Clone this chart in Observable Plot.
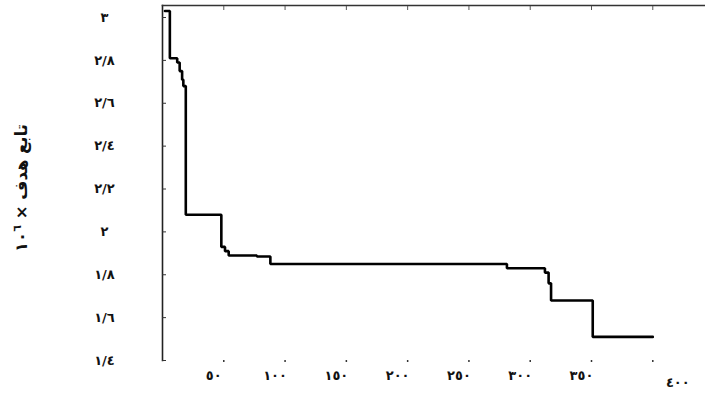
<!DOCTYPE html>
<html><head><meta charset="utf-8">
<script src="https://cdn.jsdelivr.net/npm/d3@7"></script>
<script src="https://cdn.jsdelivr.net/npm/@observablehq/plot@0.6"></script>
<style>body{margin:0;background:#fff;} svg{display:block;}</style>
</head><body><div id="chart"></div>
<script>
// Data (iteration, objective value ×10^6), drawn as a step-after line
const iterations = [2, 6, 12, 14, 16, 17, 19, 48, 51, 54, 77, 88, 281, 312, 315, 317, 351, 400];
const objective  = [3.03, 2.81, 2.79, 2.75, 2.71, 2.68, 2.08, 1.93, 1.91, 1.89, 1.885, 1.85, 1.83, 1.81, 1.76, 1.68, 1.51, 1.51];

const xTicks = [50, 100, 150, 200, 250, 300, 350, 400];
const xTickLabels = ["٥٠", "١٠٠", "١٥٠", "٢٠٠", "٢٥٠", "٣٠٠", "٣٥٠", "٤٠٠"];
const yTicks = [3.0, 2.8, 2.6, 2.4, 2.2, 2.0, 1.8, 1.6, 1.4];
const yTickLabels = ["٣", "٢/٨", "٢/٦", "٢/٤", "٢/٢", "٢", "١/٨", "١/٦", "١/٤"];
const yTitle = "تابع هدف × ١٠";
const yTitleSup = "٦";

const data = iterations.map((x, i) => ({x, y: objective[i]}));
const xLab = v => xTickLabels[xTicks.indexOf(v)];
const yLab = v => yTickLabels[yTicks.indexOf(v)];
const font = "DejaVu Sans";

const plot = Plot.plot({
  width: 705,
  height: 409,
  marginLeft: 162,
  marginRight: 0,
  marginTop: 5,
  marginBottom: 49,
  style: {fontFamily: font, fontSize: "13px", color: "#111", background: "#fff"},
  x: {domain: [0, 443], label: null},
  y: {domain: [1.4, 3.0], range: [360, 17], label: null},
  marks: [
    Plot.frame({anchor: "left", stroke: "#222", strokeWidth: 1.6}),
    Plot.frame({anchor: "top", stroke: "#333", strokeWidth: 1.6}),
    Plot.axisY({ticks: yTicks, tickSize: -4, tickFormat: () => "", stroke: "#333", label: null}),
    Plot.axisY({ticks: yTicks, tickSize: 0, tickPadding: 58, textAnchor: "middle", tickFormat: yLab, fontWeight: "bold", label: null}),
    Plot.axisX({anchor: "top", ticks: xTicks, tickSize: -4, tickFormat: () => "", stroke: "#555", label: null}),
    Plot.axisX({anchor: "bottom", ticks: xTicks, tickSize: 2, strokeWidth: 1.5, tickFormat: () => "", stroke: "#333", label: null}),
    Plot.axisX({anchor: "bottom", ticks: xTicks.slice(0, 7), tickSize: 0, tickPadding: 10, dx: -10, tickFormat: xLab, fontWeight: "bold", label: null}),
    Plot.axisX({anchor: "bottom", ticks: xTicks.slice(7), tickSize: 0, tickPadding: 17, dx: 25, tickFormat: xLab, fontWeight: "bold", label: null}),
    Plot.line(data, {x: "x", y: "y", curve: "step-after", stroke: "#000", strokeWidth: 2.6, strokeLinejoin: "miter"})
  ]
});

const svg = d3.select(plot);
const t = svg.append("text")
  .attr("transform", "translate(27,188) rotate(-90)")
  .attr("text-anchor", "middle")
  .attr("direction", "rtl")
  .attr("font-family", font)
  .attr("font-size", 16.5)
  .attr("font-weight", "bold")
  .attr("fill", "#111");
t.append("tspan").text(yTitle);
t.append("tspan").attr("font-size", 11).attr("dy", -6).text(yTitleSup);

document.getElementById("chart").appendChild(plot);
</script>
</body></html>
